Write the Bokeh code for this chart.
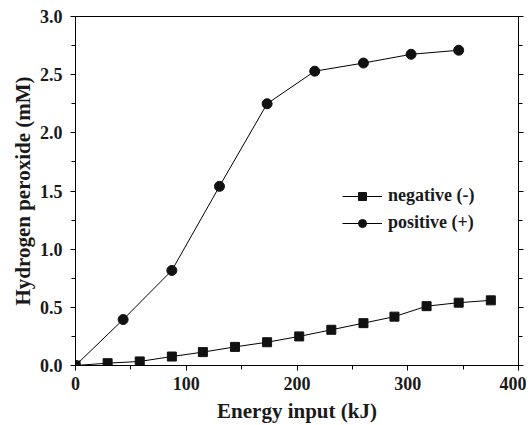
from bokeh.plotting import figure
from bokeh.models import (Range1d, LinearAxis, SingleIntervalTicker, NumeralTickFormatter,
                          Legend, LegendItem, Title)
from bokeh.embed import file_html
from bokeh.resources import INLINE

# Data
neg_x = [0, 29, 58, 87, 115, 144, 173, 202, 231, 260, 288, 317, 346, 375]
neg_y = [0.0, 0.02, 0.035, 0.077, 0.115, 0.16, 0.20, 0.25, 0.307, 0.364, 0.42, 0.51, 0.54, 0.56]
pos_x = [0, 43, 87, 130, 173, 216, 260, 303, 346]
pos_y = [0.0, 0.395, 0.817, 1.54, 2.25, 2.53, 2.60, 2.675, 2.71]
x_label = "Energy input (kJ)"
y_label = "Hydrogen peroxide (mM)"
series_names = ["negative (-)", "positive (+)"]

FONT = "Liberation Serif"
TXT = "#1a1a1a"

p = figure(frame_width=443, frame_height=349, output_backend="svg", toolbar_location=None,
           x_range=Range1d(0, 400), y_range=Range1d(0, 3.0),
           min_border_left=75, min_border_right=8, min_border_top=16, min_border_bottom=10)
p.grid.visible = False
p.outline_line_color = "black"
p.outline_line_width = 1
p.background_fill_color = "white"
p.border_fill_color = "white"

p.xaxis.ticker = SingleIntervalTicker(interval=100, num_minor_ticks=2)
p.yaxis.ticker = SingleIntervalTicker(interval=0.5, num_minor_ticks=2)
p.xaxis.formatter = NumeralTickFormatter(format="0")
p.yaxis.formatter = NumeralTickFormatter(format="0.0")

right = LinearAxis(ticker=SingleIntervalTicker(interval=0.5, num_minor_ticks=2))
p.add_layout(right, "right")

for ax in [p.xaxis[0], p.yaxis[0], right]:
    ax.axis_line_color = "black"
    ax.major_tick_line_color = "black"
    ax.minor_tick_line_color = "black"
    ax.major_tick_in = 0
    ax.major_tick_out = 5
    ax.minor_tick_in = 0
    ax.minor_tick_out = 4
    ax.major_label_text_font = FONT
    ax.major_label_text_font_style = "bold"
    ax.major_label_text_font_size = "18px"
    ax.major_label_text_color = TXT
    ax.axis_label_text_font = FONT
    ax.axis_label_text_font_style = "bold"
    ax.axis_label_text_font_size = "21px"
    ax.axis_label_text_color = TXT

right.major_label_text_alpha = 0
right.major_label_text_font_size = "1px"

p.xaxis[0].axis_label = x_label
p.xaxis[0].major_label_standoff = 6
p.yaxis[0].major_label_standoff = 8
p.xaxis[0].axis_label_standoff = 6

# y-axis title, placed a little below the frame centre as in the original
ytitle = Title(text=y_label, align="center", offset=-14, standoff=4,
               text_font=FONT, text_font_style="bold", text_font_size="21px", text_color=TXT)
p.add_layout(ytitle, "left")

l1 = p.line(neg_x, neg_y, line_color="black", line_width=1)
m1 = p.scatter(neg_x, neg_y, marker="square", size=9, fill_color="#111111", line_color="#111111")
l2 = p.line(pos_x, pos_y, line_color="black", line_width=1)
m2 = p.scatter(pos_x, pos_y, marker="circle", size=10, fill_color="#111111", line_color="#111111")

legend = Legend(items=[LegendItem(label=series_names[0], renderers=[l1, m1]),
                       LegendItem(label=series_names[1], renderers=[l2, m2])],
                location=(265, 130))
legend.background_fill_alpha = 0
legend.border_line_alpha = 0
legend.label_text_font = FONT
legend.label_text_font_style = "bold"
legend.label_text_font_size = "18px"
legend.label_text_color = TXT
legend.glyph_width = 40
legend.spacing = 6
legend.padding = 2
legend.label_standoff = 6
p.add_layout(legend, "center")

open("out.html", "w").write(file_html(p, INLINE))
